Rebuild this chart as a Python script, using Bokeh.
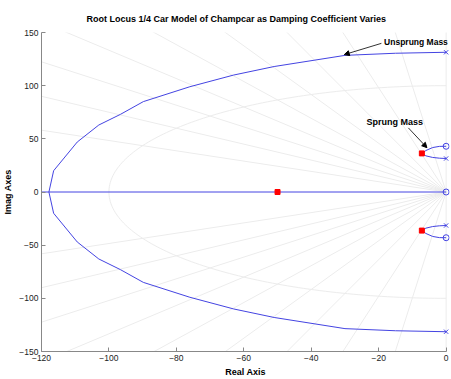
import numpy as np
from bokeh.plotting import figure
from bokeh.models import Range1d, Label, Arrow, NormalHead, FixedTicker
from bokeh.embed import file_html
from bokeh.resources import INLINE

# Root locus branches (real, imaginary parts)
big_re = [0.0, -15.0, -30.0, -51.0, -63.0, -76.0, -89.8, -96.6, -103.0, -109.4, -116.4, -117.8]
big_im = [131.4, 130.5, 128.5, 118.0, 110.0, 99.0, 85.0, 73.0, 63.0, 47.0, 20.0, 0.0]

small_re = [0.0, -2.0, -4.0, -6.0, -7.2, -6.0, -4.0, -2.0, 0.0]
small_im = [31.5, 31.8, 32.5, 34.0, 36.3, 39.0, 41.8, 42.9, 43.0]

real_axis_re = [-125.0, 0.0]
real_axis_im = [0.0, 0.0]

# Open-loop poles and zeros
pole_re = [0.0, 0.0, 0.0, 0.0]
pole_im = [131.4, -131.4, 31.5, -31.5]
zero_re = [0.0, 0.0, 0.0]
zero_im = [0.0, 43.0, -43.0]

# Closed-loop poles at the chosen damping coefficient
cl_re = [-50.0, -7.2, -7.2]
cl_im = [0.0, 36.3, -36.3]

# s-plane grid: damping ratios and natural frequencies
zeta_lines = [0.0, 0.1, 0.2, 0.3, 0.4, 0.5, 0.6, 0.7, 0.8, 0.9]
wn_circles = [100.0]

x_ticks = [-120, -100, -80, -60, -40, -20, 0]
y_ticks = [-150, -100, -50, 0, 50, 100, 150]

BLUE = "#4444e2"
GRID = "#ececec"
FONT = "Liberation Sans"

p = figure(width=451, height=379, output_backend="svg", toolbar_location=None,
           x_range=Range1d(-120, 1.0), y_range=Range1d(-150, 150),
           min_border_left=41, min_border_right=2, min_border_top=32, min_border_bottom=25,
           title="Root Locus 1/4 Car Model of Champcar as Damping Coefficient Varies")
p.outline_line_color = None
p.xgrid.visible = False
p.ygrid.visible = False
p.background_fill_color = "white"
p.border_fill_color = "white"

p.title.text_font = FONT
p.title.text_font_size = "9px"
p.title.text_font_style = "bold"
p.title.text_color = "black"
p.title.align = "left"
p.title.offset = 45
p.title.standoff = 18

# damping ratio rays
R = 400.0
for z in zeta_lines:
    ang = np.arccos(z)
    xe, ye = -R * z, R * np.sin(ang)
    p.line([0, xe], [0, ye], line_color=GRID, line_width=1)
    p.line([0, xe], [0, -ye], line_color=GRID, line_width=1)

# natural frequency semicircles
th = np.linspace(np.pi / 2, 3 * np.pi / 2, 181)
for wn in wn_circles:
    p.line(wn * np.cos(th), wn * np.sin(th), line_color=GRID, line_width=1)

# locus branches
p.line(real_axis_re, real_axis_im, line_color=BLUE, line_width=1)
p.line(big_re, big_im, line_color=BLUE, line_width=1)
p.line(big_re, [-v for v in big_im], line_color=BLUE, line_width=1)
p.line(small_re, small_im, line_color=BLUE, line_width=1)
p.line(small_re, [-v for v in small_im], line_color=BLUE, line_width=1)

p.scatter(pole_re, pole_im, marker="x", size=6, line_color=BLUE, line_width=1)
p.scatter(zero_re, zero_im, marker="circle", size=6, line_color=BLUE, fill_color=None, line_width=1)
p.scatter(cl_re, cl_im, marker="square", size=5, line_color="red", fill_color="red")

# annotations
p.add_layout(Arrow(end=NormalHead(size=5, fill_color="black", line_color="black"),
                   x_start=-19.2, y_start=139.8, x_end=-30.2, y_end=129.2,
                   line_color="#333333", line_width=1))
p.add_layout(Arrow(end=NormalHead(size=5, fill_color="black", line_color="black"),
                   x_start=-11.2, y_start=60.3, x_end=-5.7, y_end=41.7,
                   line_color="#333333", line_width=1))
p.add_layout(Label(x=-18.4, y=140.8, text="Unsprung Mass", text_font=FONT,
                   text_font_size="8.5px", text_font_style="bold", text_color="black",
                   text_baseline="middle", text_align="left"))
p.add_layout(Label(x=-23.6, y=66.0, text="Sprung Mass", text_font=FONT,
                   text_font_size="9px", text_font_style="bold", text_color="black",
                   text_baseline="middle", text_align="left"))

# axes
for ax, ticks, label in ((p.xaxis[0], x_ticks, "Real Axis"), (p.yaxis[0], y_ticks, "Imag Axes")):
    ax.ticker = FixedTicker(ticks=ticks)
    ax.axis_label = label
    ax.axis_label_text_font = FONT
    ax.axis_label_text_font_size = "9px"
    ax.axis_label_text_font_style = "bold"
    ax.axis_label_text_color = "black"
    ax.major_label_text_font = FONT
    ax.major_label_text_font_size = "8.5px"
    ax.major_label_text_color = "#222222"
    ax.axis_line_color = "#888888"
    ax.major_tick_line_color = "#888888"
    ax.major_tick_in = 4
    ax.major_tick_out = 0
    ax.minor_tick_line_color = None
    ax.major_label_standoff = 3
    ax.axis_label_standoff = 3

p.xaxis[0].bounds = (-120, 0)

open("out.html", "w").write(file_html(p, INLINE))
